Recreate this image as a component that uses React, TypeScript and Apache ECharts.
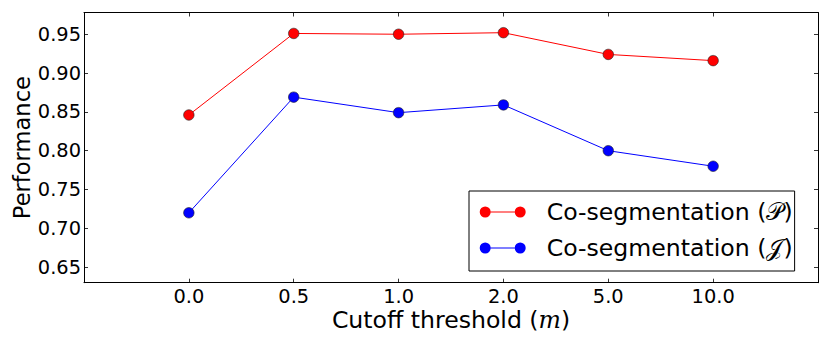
import React, { useEffect, useRef } from "react";
import * as echarts from "echarts";

const categories = ["0.0", "0.5", "1.0", "2.0", "5.0", "10.0"];
const seriesNames = ["Co-segmentation (𝒫)", "Co-segmentation (𝒥)"];
const seriesP = [0.846, 0.951, 0.95, 0.952, 0.924, 0.916];
const seriesJ = [0.72, 0.869, 0.849, 0.859, 0.8, 0.78];
const yTicks = [0.65, 0.7, 0.75, 0.8, 0.85, 0.9, 0.95];
const xTicks = [0, 1, 2, 3, 4, 5];

const FONT = "DejaVu Sans";
const legendIcon =
  "path://M0,5.5A5.5,5.5,0,1,0,11,5.5A5.5,5.5,0,1,0,0,5.5ZM35,5.5A5.5,5.5,0,1,0,46,5.5A5.5,5.5,0,1,0,35,5.5ZM11,5L35,5L35,6L11,6Z";

export default function App() {
  const ref = useRef<HTMLDivElement>(null);
  useEffect(() => {
    if (!ref.current) return;
    const chart = echarts.init(ref.current, undefined, { renderer: "svg" });
    const axisLine = { show: true, onZero: false, lineStyle: { color: "#000", width: 1 } };
    const tick = { show: true, inside: true, length: 4, lineStyle: { color: "#000", width: 0.8 } };
    const mk = (name: string, vals: number[], color: string) => ({
      name,
      type: "line",
      xAxisIndex: 0,
      yAxisIndex: 0,
      data: vals.map((v, i) => [i, v]),
      symbol: "circle",
      symbolSize: 10.5,
      lineStyle: { color, width: 1 },
      itemStyle: { color, borderColor: "#222", borderWidth: 0.6 },
      emphasis: { disabled: true },
    });
    chart.setOption({
      animation: false,
      textStyle: { fontFamily: FONT },
      grid: {
        left: 84,
        right: 12,
        top: 12.5,
        bottom: 63.3,
        containLabel: false,
        outerBoundsMode: "none",
      },
      xAxis: [
        {
          type: "value",
          position: "bottom",
          min: -1,
          max: 6,
          axisLine,
          axisTick: { ...tick, customValues: xTicks },
          splitLine: { show: false },
          axisLabel: {
            customValues: xTicks,
            formatter: (v: number) => categories[v] ?? "",
            fontSize: 19.4,
            color: "#000",
            fontFamily: FONT,
            margin: 4,
          },
          name: "Cutoff threshold ({m|m})",
          nameLocation: "middle",
          nameGap: 25,
          nameMoveOverlap: false,
          nameTextStyle: {
            fontSize: 23.6,
            color: "#000",
            fontFamily: FONT,
            rich: { m: { fontSize: 23.6, fontStyle: "italic", fontFamily: "DejaVu Serif", color: "#000" } },
          },
        },
        {
          type: "value",
          position: "top",
          min: -1,
          max: 6,
          axisLine,
          axisTick: { ...tick, customValues: xTicks },
          splitLine: { show: false },
          axisLabel: { show: false },
        },
      ],
      yAxis: [
        {
          type: "value",
          position: "left",
          min: 0.63,
          max: 0.978,
          axisLine,
          axisTick: { ...tick, customValues: yTicks },
          splitLine: { show: false },
          axisLabel: {
            customValues: yTicks,
            formatter: (v: number) => v.toFixed(2),
            fontSize: 19.4,
            color: "#000",
            fontFamily: FONT,
            margin: 3,
          },
          name: "Performance",
          nameLocation: "middle",
          nameRotate: 90,
          nameGap: 51,
          nameMoveOverlap: false,
          nameTextStyle: { fontSize: 22.6, color: "#000", fontFamily: FONT },
        },
        {
          type: "value",
          position: "right",
          min: 0.63,
          max: 0.978,
          axisLine,
          axisTick: { ...tick, customValues: yTicks },
          splitLine: { show: false },
          axisLabel: { show: false },
        },
      ],
      legend: {
        data: seriesNames.map((n) => ({ name: n, icon: legendIcon })),
        orient: "vertical",
        left: 469,
        top: 191,
        itemWidth: 46,
        itemHeight: 11,
        itemGap: 10,
        padding: [8, 2, 10, 10.7],
        borderColor: "#000",
        borderWidth: 1,
        borderRadius: 0,
        backgroundColor: "#fff",
        itemStyle: { borderWidth: 0 },
        textStyle: { fontSize: 23.6, lineHeight: 26, color: "#000", fontFamily: FONT, padding: [0, 0, 0, 16] },
        selectedMode: false,
      },
      series: [mk(seriesNames[0], seriesP, "#ff0000"), mk(seriesNames[1], seriesJ, "#0000ff")],
    });
    return () => chart.dispose();
  }, []);
  return (
    <div
      ref={ref}
      style={{ position: "absolute", left: 0, top: 0, width: 830, height: 346, background: "#fff" }}
    />
  );
}
